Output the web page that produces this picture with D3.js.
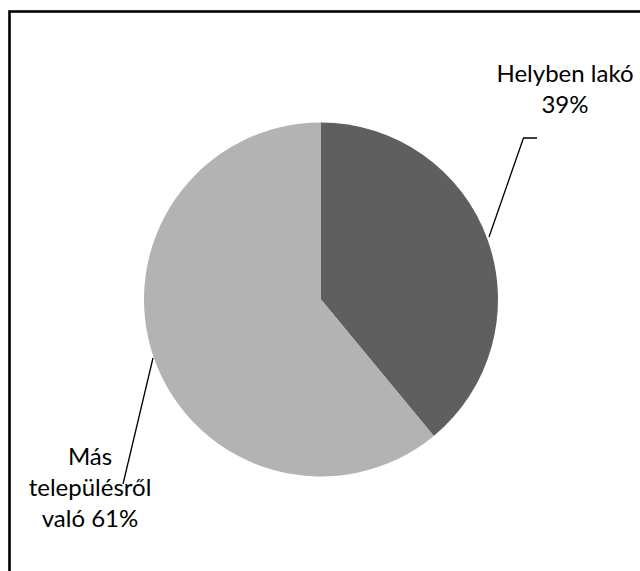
<!DOCTYPE html>
<html>
<head>
<meta charset="utf-8">
<script src="https://cdn.jsdelivr.net/npm/d3@7/dist/d3.min.js"></script>
<style>
  html, body { margin: 0; padding: 0; background: #fff; }
  svg { display: block; }
</style>
</head>
<body>
<svg id="chart" width="640" height="571"></svg>
<script>
const categories = ["Helyben lakó", "Más településről való"];
const values = [39, 61];
const labelLines = [["Helyben lakó", "39%"], ["Más", "településről", "való 61%"]];
const colors = ["#5f5f5f", "#b3b3b3"];

const svg = d3.select("#chart");
const cx = 321, cy = 299.5, r = 177;

svg.append("rect").attr("x", 9.5).attr("y", 11.5).attr("width", 700).attr("height", 700)
  .attr("fill", "#fff").attr("stroke", "#000").attr("stroke-width", 2.6);

const pie = d3.pie().sort(null).value(d => d)(values);
const arc = d3.arc().innerRadius(0).outerRadius(r);
const g = svg.append("g").attr("transform", `translate(${cx},${cy})`);
g.selectAll("path").data(pie).join("path")
  .attr("d", arc).attr("fill", (d, i) => colors[i]);

const leader = [
  { pts: [[489, 237], [523.5, 138], [537, 138]] },
  { pts: [[153, 358], [123, 484]] }
];
svg.selectAll("polyline.leader").data(leader).join("polyline")
  .attr("class", "leader")
  .attr("points", d => d.pts.map(p => p.join(",")).join(" "))
  .attr("fill", "none").attr("stroke", "#000").attr("stroke-width", 1.3);

const labelPos = [{ x: 565, y: 82 }, { x: 90, y: 465 }];
const lineH = [31, 31];
labelLines.forEach((lines, i) => {
  const t = svg.append("text")
    .attr("text-anchor", "middle")
    .attr("font-family", "Lato, 'Liberation Sans', sans-serif")
    .attr("font-size", 24)
    .attr("fill", "#000");
  lines.forEach((ln, j) => {
    t.append("tspan").attr("x", labelPos[i].x).attr("y", labelPos[i].y + j * lineH[i]).text(ln);
  });
});
</script>
</body>
</html>
